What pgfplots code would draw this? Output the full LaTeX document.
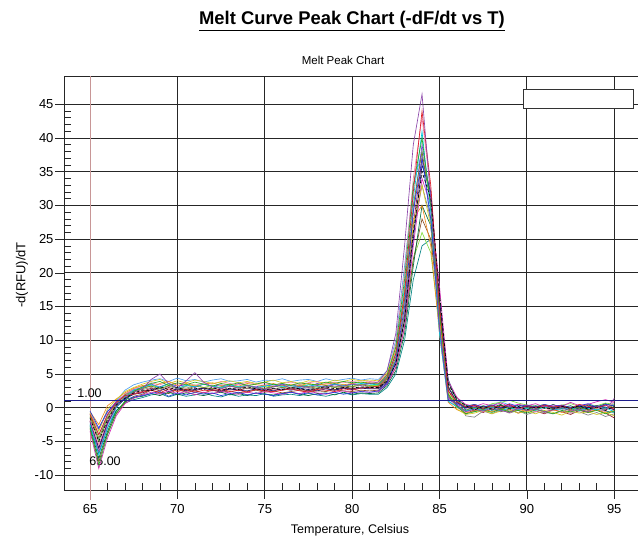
\documentclass[border=0pt]{standalone}
\usepackage{pgfplots}
\pgfplotsset{compat=1.18}
\usepackage{pgfplotstable}
\usepackage{fontspec}
\setmainfont{Liberation Sans}

\definecolor{c1}{RGB}{140,70,170}
\definecolor{c2}{RGB}{220,30,40}
\definecolor{c3}{RGB}{40,170,40}
\definecolor{c4}{RGB}{40,60,220}
\definecolor{c5}{RGB}{0,200,220}
\definecolor{c6}{RGB}{0,0,0}
\definecolor{c7}{RGB}{210,200,40}
\definecolor{c8}{RGB}{210,40,180}
\definecolor{c9}{RGB}{120,130,30}
\definecolor{c10}{RGB}{20,20,120}
\definecolor{c11}{RGB}{240,140,30}
\definecolor{c12}{RGB}{0,110,60}
\definecolor{c13}{RGB}{240,130,170}
\definecolor{c14}{RGB}{130,130,130}
\definecolor{c15}{RGB}{140,80,40}
\definecolor{c16}{RGB}{130,220,60}
\definecolor{c17}{RGB}{0,130,130}
\definecolor{c18}{RGB}{110,60,220}
\definecolor{c19}{RGB}{150,20,40}
\definecolor{c20}{RGB}{80,160,240}
\definecolor{thresh}{RGB}{30,30,140}
\definecolor{rosy}{RGB}{200,150,150}

\pgfplotstableread{
T a1 a2 a3 a4 a5 a6 a7 a8 a9 a10 a11 a12 a13 a14 a15 a16 a17 a18 a19 a20
65.0 -2.0 -1.0 -3.0 -0.5 -2.5 -1.5 -0.8 -3.5 -1.2 -2.2 -0.6 -2.8 -1.8 -1.0 -3.2 -1.4 -2.6 -0.9 -2.0 -1.6
65.5 -6.5 -4.0 -8.5 -3.0 -7.0 -5.0 -3.5 -9.0 -4.5 -6.0 -2.5 -7.5 -5.5 -4.0 -8.0 -5.0 -6.8 -3.2 -6.0 -4.8
66.0 -2.5 -1.0 -4.0 -0.5 -3.0 -1.8 -0.2 -4.5 -1.5 -2.2 0.3 -3.5 -2.0 -1.2 -3.8 -1.6 -3.0 -0.6 -2.4 -1.0
66.5 0.2 0.8 -0.8 0.6 0.0 0.4 1.2 -1.2 0.5 0.1 1.3 -0.5 0.6 0.7 -0.9 0.3 -0.4 0.9 0.2 1.0
67.0 1.5 1.8 1.0 1.2 1.6 1.4 2.4 0.6 1.9 1.3 2.2 0.9 2.0 1.7 0.8 1.6 0.7 2.0 1.4 2.6
67.5 2.3 2.0 2.4 1.6 2.6 2.2 3.0 1.4 2.5 2.0 2.9 1.5 2.8 2.4 1.7 2.5 1.2 2.7 2.1 3.4
68.0 2.8 2.3 3.1 1.8 3.0 2.6 3.5 1.9 2.9 2.2 3.3 1.7 3.2 2.7 2.0 2.8 1.5 3.0 2.4 3.8
68.5 4.2 2.6 3.6 2.1 3.4 2.5 3.9 2.3 3.2 2.7 3.1 2.1 3.7 3.0 2.6 3.3 1.9 3.5 2.9 4.1
69.0 5.0 2.2 3.9 2.4 3.0 3.1 4.2 2.0 2.8 2.9 3.6 1.8 3.4 2.6 2.3 3.0 2.1 3.1 2.5 4.3
69.5 3.6 2.8 3.3 1.7 3.6 2.7 3.6 2.5 3.3 2.4 3.9 2.3 3.9 3.2 2.1 3.5 1.6 3.6 3.0 3.9
70.0 2.9 2.4 3.7 2.2 2.9 3.0 4.0 2.1 3.0 2.8 3.3 1.9 3.5 2.8 2.7 2.9 2.0 3.2 2.6 4.4
70.5 4.0 2.7 3.4 1.9 3.3 2.6 3.7 2.4 2.7 2.5 3.6 2.2 3.8 3.1 2.3 3.2 1.7 3.4 2.8 4.0
71.0 5.2 2.3 3.8 2.3 3.1 2.9 4.1 1.9 3.2 2.7 3.2 2.0 3.3 2.7 2.5 3.4 1.9 3.0 2.5 4.2
71.5 3.8 2.6 3.5 2.0 3.5 2.7 3.9 2.3 3.0 2.9 3.5 1.8 3.7 3.0 2.2 3.0 2.2 3.5 2.9 3.8
72.0 3.1 2.5 3.2 2.2 3.2 3.0 3.6 2.1 2.8 2.6 3.7 2.1 3.5 2.8 2.6 3.3 1.8 3.2 2.7 4.1
72.5 2.8 2.8 3.6 1.8 3.0 2.6 3.8 2.4 3.1 2.4 3.3 2.3 3.9 3.1 2.3 2.9 1.6 3.4 2.5 4.3
73.0 3.2 2.4 3.4 2.1 3.4 2.9 4.0 2.2 3.3 2.8 3.5 1.9 3.6 2.7 2.5 3.2 2.0 3.1 2.8 3.9
73.5 2.9 2.6 3.7 2.3 3.1 2.7 3.7 2.0 2.9 2.6 3.2 2.1 3.4 3.0 2.2 3.1 1.7 3.6 2.6 4.0
74.0 3.3 2.3 3.3 1.9 3.3 3.1 3.9 2.3 3.1 2.5 3.6 1.8 3.8 2.8 2.4 3.4 1.9 3.3 2.9 4.2
74.5 3.0 2.7 3.5 2.2 3.0 2.8 3.6 2.1 3.0 2.8 3.4 2.2 3.5 2.9 2.6 3.0 1.8 3.1 2.7 3.8
75.0 2.7 2.5 3.8 2.0 3.2 2.6 3.8 2.4 2.8 2.7 3.3 2.0 3.7 3.1 2.3 3.2 2.1 3.4 2.5 4.1
75.5 3.1 2.4 3.4 1.8 3.5 2.9 4.1 2.2 3.2 2.5 3.6 1.9 3.4 2.8 2.5 3.1 1.7 3.2 2.8 4.0
76.0 3.4 2.6 3.6 2.1 3.1 2.7 3.7 2.0 3.0 2.8 3.2 2.1 3.6 3.0 2.2 3.3 1.9 3.5 2.6 4.3
76.5 2.9 2.8 3.3 2.3 3.3 3.0 3.9 2.3 2.9 2.6 3.5 2.3 3.8 2.7 2.4 3.0 2.0 3.2 2.9 3.9
77.0 3.2 2.5 3.7 2.0 3.0 2.8 3.6 2.1 3.2 2.9 3.3 2.0 3.5 3.1 2.6 3.4 1.8 3.4 2.7 4.1
77.5 3.0 2.3 3.5 2.2 3.4 2.6 4.0 2.4 3.1 2.7 3.6 1.8 3.7 2.9 2.3 3.2 2.1 3.1 2.5 4.2
78.0 3.3 2.7 3.4 1.9 3.2 2.9 3.8 2.2 2.9 2.5 3.4 2.1 3.9 2.8 2.5 3.1 1.9 3.6 2.8 3.9
78.5 3.1 2.6 3.8 2.1 3.1 3.1 3.7 2.0 3.3 2.8 3.5 2.2 3.6 3.0 2.4 3.3 1.7 3.3 2.9 4.3
79.0 3.4 2.4 3.6 2.3 3.5 2.8 4.1 2.3 3.0 2.6 3.7 1.9 3.8 3.2 2.7 3.0 2.0 3.5 2.6 4.0
79.5 3.2 2.8 3.9 2.0 3.3 3.0 3.9 2.5 3.2 2.9 3.4 2.3 3.7 2.9 2.5 3.4 2.2 3.2 3.0 4.2
80.0 3.5 2.6 3.7 2.2 3.4 2.9 4.2 2.2 3.1 2.7 3.6 2.0 3.9 3.1 2.4 3.2 1.9 3.6 2.8 4.4
80.5 3.3 2.9 3.8 2.4 3.6 3.1 4.0 2.4 3.4 2.9 3.8 2.2 4.0 3.0 2.6 3.5 2.1 3.4 3.0 4.1
81.0 3.6 3.0 3.6 2.3 3.5 3.0 4.1 2.3 3.2 2.8 3.7 2.1 3.9 3.2 2.5 3.3 2.0 3.7 2.9 4.3
81.5 3.8 3.2 3.5 2.5 3.4 3.0 4.0 2.4 3.1 2.8 3.6 2.2 3.8 3.1 2.6 3.3 2.0 3.5 2.9 4.2
82.0 5.5 4.5 4.8 3.6 4.5 4.0 5.2 3.5 4.3 3.8 4.9 3.3 5.0 4.2 3.6 4.4 3.0 4.6 4.0 5.5
82.5 11 8 9 7 8 6.5 9 6 7.5 6.5 8.5 5.5 9.5 7 6 7 5 8 7 10
83.0 24 17 19 15 18 13 17 12 16 13 17 11 20 14 12 13 10 16 14 21
83.5 39 32 33 29 31 26 27 24 30 25 28 21 34 26 22 22 19 29 27 33
84.0 46.5 44 40 37 41 35 33 34 38 36 30 30 43 33 28 26 24 39 37 38
84.5 31 33 30 28 29 31 27 30 30 32 24 27 32 28 25 23 25 31 32 27
85.0 12 15 14 12 11 17 13 18 14 16 11 15 13 15 14 12 16 14 15 11
85.5 1.5 2.5 2.0 1.2 1.0 3.5 2.2 4.0 1.8 3.0 0.8 3.8 1.4 2.8 3.2 2.0 4.2 1.6 2.6 0.9
86.0 0.4 0.9 0.2 0.6 0.1 1.3 -0.2 1.5 0.3 0.8 -0.3 1.1 0.0 1.6 0.7 0.9 1.0 0.5 0.3 0.2
86.5 -0.6 0.1 -0.9 0.2 -0.5 0.3 -1.0 0.5 -0.4 0.0 -0.8 0.4 -0.7 -1.2 0.1 0.2 -0.3 -0.1 -0.9 -0.4
87.0 -0.2 0.4 -0.6 0.5 -0.1 -0.3 -0.8 0.2 0.1 0.3 -0.5 -0.1 -0.2 -1.4 -0.4 0.5 -0.6 0.3 -0.3 0.1
87.5 -0.5 -0.1 -0.3 0.1 -0.4 0.2 -0.4 0.6 -0.3 -0.2 -0.2 0.3 -0.6 -0.5 0.2 0.0 0.1 -0.2 -0.7 -0.3
88.0 0.0 0.3 -0.7 0.4 0.1 -0.2 -0.9 0.3 0.2 0.4 -0.6 0.0 0.1 -0.9 -0.1 0.6 -0.4 0.4 -0.2 0.3
88.5 -0.4 0.1 -0.2 0.0 -0.5 0.3 -0.5 0.7 -0.2 -0.1 -0.1 0.5 -0.4 -0.3 0.4 0.8 -0.1 -0.3 -0.6 0.9
89.0 -0.7 0.5 -0.6 0.6 0.0 -0.1 -0.3 0.2 0.1 0.3 -0.7 -0.2 -0.5 -0.8 -0.2 1.1 -0.5 0.2 -0.2 0.4
89.5 -0.1 -0.2 -0.4 0.2 -0.3 0.2 -0.8 0.5 -0.4 0.0 -0.3 0.4 0.0 -0.4 0.1 0.7 0.0 -0.1 -0.8 -0.2
90.0 -0.4 0.3 -0.8 0.4 -0.1 -0.3 -0.5 0.3 0.0 0.2 -0.5 0.1 -0.3 -1.0 -0.3 0.4 -0.4 0.4 -0.4 0.1
90.5 -0.2 0.0 -0.3 0.1 -0.4 0.1 -0.9 0.6 -0.3 -0.1 -0.2 0.3 -0.6 -0.6 0.2 0.2 -0.2 0.0 -0.5 -0.3
91.0 -0.6 0.4 -0.5 0.5 0.1 0.0 -0.4 0.1 0.2 0.4 -0.6 -0.1 -0.1 -0.7 0.0 0.5 0.1 0.3 -0.9 0.2
91.5 -0.3 0.1 -0.9 0.2 -0.3 -0.2 -0.7 0.4 -0.2 0.0 -0.3 0.5 -0.4 -0.9 -0.2 0.1 -0.3 -0.2 -0.3 -0.1
92.0 0.1 0.3 -0.4 0.4 -0.2 0.2 -1.1 0.2 0.0 0.3 -0.7 0.0 -0.2 -0.5 0.3 0.4 -0.1 0.2 -0.6 0.3
92.5 -0.5 -0.1 -0.6 0.0 0.0 -0.1 -0.5 0.8 -0.3 -0.2 -0.4 0.3 -0.7 -0.8 -0.1 0.6 -0.4 0.1 -1.0 0.0
93.0 -0.2 0.5 -0.3 0.3 -0.4 0.3 -0.8 0.3 0.1 0.2 -0.2 -0.2 -0.3 -0.6 0.2 0.2 0.0 -0.1 -0.4 0.4
93.5 -0.6 0.2 -0.7 0.6 -0.1 -0.2 -0.6 0.5 -0.4 0.0 -0.6 0.4 -0.5 -1.1 -0.3 0.5 -0.3 0.3 -0.7 -0.2
94.0 0.2 0.0 -0.4 0.1 -0.3 0.1 -1.0 0.9 0.0 0.3 -0.3 0.1 -0.1 -0.7 0.1 0.3 -0.2 0.0 -0.3 0.2
94.5 -0.4 0.4 -0.9 0.5 0.0 -0.4 -0.7 1.2 -0.2 0.1 -0.8 0.6 -0.6 -1.3 -0.2 0.7 -0.5 0.4 -0.8 -0.1
95.0 1.4 -0.2 -0.5 0.3 -0.6 0.2 -1.2 0.8 0.4 -0.3 -0.4 0.2 1.0 -0.9 0.0 0.5 -0.7 -0.3 -1.5 0.6
}\meltdata

\begin{document}
\begin{tikzpicture}
\useasboundingbox (0pt,0pt) rectangle (638pt,540pt);
\node[font=\fontsize{18.4}{20}\selectfont\bfseries] at (352pt,519pt) {\underline{Melt Curve Peak Chart (-dF/dt vs T)}};
\node[font=\fontsize{11.5}{13}\selectfont] at (343pt,480pt) {Melt Peak Chart};
\begin{axis}[
  at={(64pt,50pt)}, anchor=south west,
  scale only axis, width=574pt, height=414pt,
  xmin=63.51, xmax=96.36, ymin=-12.2, ymax=49.2,
  xtick={65,70,...,95}, ytick={-10,-5,...,45},
  minor x tick num=4, minor y tick num=4,
  tick pos=left,
  tick align=inside, major tick length=-9pt, minor tick length=7pt,
  grid=major,
  major grid style={black!85, line width=0.9pt},
  axis line style={black!85, line width=0.9pt},
  tick style={black!85, line width=0.7pt},
  ticklabel style={font=\fontsize{13}{13}\selectfont},
  xticklabel style={yshift=-11pt},
  yticklabel style={xshift=-7pt},
  /pgf/number format/assume math mode=true,
  clip=false,
]
\draw[rosy, line width=1pt] (axis cs:65,-13.68) -- (axis cs:65,49.2);
\node[font=\fontsize{12.5}{13}\selectfont] at (axis cs:65.86,-7.92) {65.00};
\pgfplotsinvokeforeach{20,19,...,7,5,4,3,2,1}{
  \addplot[c#1, line width=0.65pt, no markers] table[x=T, y=a#1] {\meltdata};
}
\addplot[c6, line width=0.65pt, densely dashed, no markers] table[x=T, y=a6] {\meltdata};
\addplot[thresh, line width=1pt, no markers] coordinates {(63.51,1) (96.36,1)};
\node[font=\fontsize{12.5}{13}\selectfont] at (axis cs:64.97,2.17) {1.00};
\end{axis}
\draw[fill=white, draw=black!80, line width=0.9pt] (523pt,432pt) rectangle (633pt,451pt);
\node[font=\fontsize{12.5}{13}\selectfont] at (350pt,10pt) {Temperature, Celsius};
\node[rotate=90, font=\fontsize{13}{13}\selectfont] at (22pt,265pt) {-d(RFU)/dT};
\end{tikzpicture}
\end{document}
